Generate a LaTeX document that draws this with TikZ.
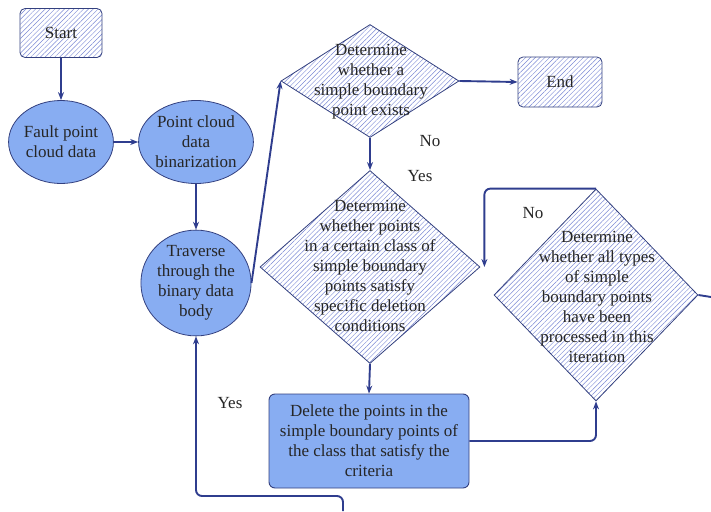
\documentclass[tikz,border=0pt]{standalone}
\usepackage{fontspec}
\setmainfont{Liberation Serif}
\usetikzlibrary{shapes.geometric,patterns.meta,arrows.meta}
\definecolor{lineblue}{HTML}{2F3D8E}
\definecolor{hatchblue}{HTML}{7A88D4}
\definecolor{fillblue}{HTML}{88ADF2}
\definecolor{edgeblue}{HTML}{33407F}
\begin{document}
\begin{tikzpicture}[x=1pt,y=1pt,
  every node/.style={font=\rmfamily\fontsize{17}{20}\selectfont, text=black!85, align=center},
  hatched/.style={draw=edgeblue, line width=0.8pt, pattern={Lines[angle=45,distance=3.4pt,line width=0.45pt]}, pattern color=hatchblue},
  termbox/.style={hatched, rectangle, rounded corners=5pt, minimum width=82pt, minimum height=49pt, inner sep=0pt},
  oval/.style={ellipse, draw=edgeblue, line width=0.8pt, fill=fillblue, minimum width=104pt, minimum height=83pt, inner sep=0pt},
  decision/.style={hatched, diamond, inner sep=0pt},
  procbox/.style={rectangle, rounded corners=6pt, draw=edgeblue, line width=0.9pt, fill=fillblue, minimum width=200pt, minimum height=94pt, inner sep=0pt},
  conn/.style={draw=lineblue, line width=1.9pt, -{Stealth[length=8pt,width=6pt]}},
  plainconn/.style={draw=lineblue, line width=1.9pt},
  lbl/.style={inner sep=0pt}]
\useasboundingbox (0,0) rectangle (711,-511);

\node[termbox] (start) at (61,-33) {Start};
\node[oval] (fault) at (61,-142) {Fault point\\cloud data};
\node[oval] (bin) at (196,-142) {Point cloud\\data\\binarization};
\node[oval] (trav) at (196,-283) {Traverse\\through the\\binary data\\body};

\node[decision, minimum width=178pt, minimum height=113pt] (d1) at (370,-81) {};
\node[inner sep=0pt] (d1t) at (371,-82) {Determine\\whether a\\simple boundary\\point exists};

\node[termbox, minimum width=84pt, minimum height=50pt] (end) at (560,-82) {End};

\node[decision, minimum width=220pt, minimum height=193pt] (d2) at (370,-267) {};
\node[inner sep=0pt] (d2t) at (370,-266) {Determine\\whether points\\in a certain class of\\simple boundary\\points satisfy\\specific deletion\\conditions};

\node[procbox] (del) at (369,-441) {Delete the points in the\\simple boundary points of\\the class that satisfy the\\criteria};

\node[decision, minimum width=204pt, minimum height=212pt] (d3) at (596,-295) {};
\node[inner sep=0pt] (d3t) at (597,-297) {Determine\\whether all types\\of simple\\boundary points\\have been\\processed in this\\iteration};

\node[lbl] (no1) at (430,-141) {No};
\node[lbl] (yes1) at (420,-176) {Yes};
\node[lbl] (no2) at (533,-213) {No};
\node[lbl] (yes2) at (230,-403) {Yes};

\coordinate (offright) at (711,-297);
\coordinate (offbottom) at (343,-511);
\coordinate (botturn) at (343,-496);

\draw[conn] (start) -- (fault);
\draw[conn] (fault) -- (bin);
\draw[conn] (bin) -- (trav);
\draw[conn] (trav.east) -- (d1.west);
\draw[conn] (d1.east) -- (end.west);
\draw[conn] (d1.south) -- (d2.north);
\draw[conn] (d2.south) -- (del.north);
\draw[conn, rounded corners=6pt] (del.east) -| (d3.south);
\draw[conn, rounded corners=6pt] (d3.north) -| ([xshift=4pt]d2.east);
\draw[plainconn] (d3.east) -- (offright);
\draw[conn, rounded corners=6pt] (offbottom) -- (botturn) -| (trav.south);
\end{tikzpicture}
\end{document}
